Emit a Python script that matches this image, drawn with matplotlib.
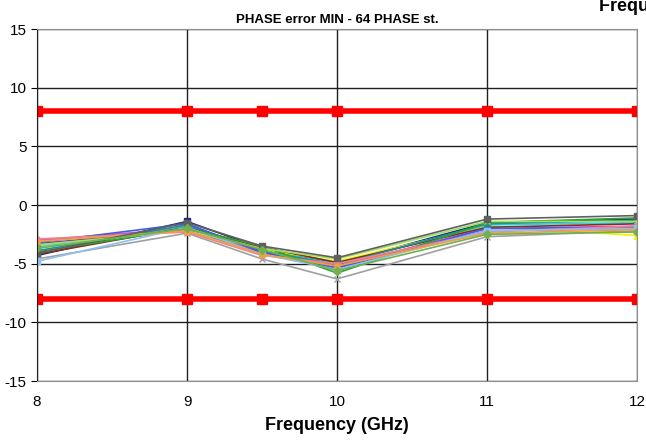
import numpy as np
import matplotlib.pyplot as plt

plt.rcParams['font.family'] = ['Liberation Sans', 'DejaVu Sans']
plt.rcParams['axes.unicode_minus'] = False

freq = [8, 9, 9.5, 10, 11, 12]
limit_hi = [8, 8, 8, 8, 8, 8]
limit_lo = [-8, -8, -8, -8, -8, -8]

# phase error per state (deg)
series = [
    [-4.3, -1.4, -3.7, -5.0, -1.5, -1.2],
    [-3.0, -2.0, -4.0, -5.2, -2.0, -1.8],
    [-3.5, -2.0, -3.8, -4.8, -1.8, -2.6],
    [-3.6, -1.8, -3.9, -5.0, -1.7, -1.5],
    [-3.3, -2.1, -4.1, -5.3, -2.2, -2.0],
    [-4.2, -1.9, -3.6, -4.9, -1.9, -1.6],
    [-3.9, -1.7, -3.9, -5.1, -1.6, -1.3],
    [-3.2, -1.6, -4.0, -5.4, -2.0, -1.9],
    [-4.0, -2.0, -3.5, -5.8, -1.5, -1.1],
    [-3.4, -2.2, -3.7, -4.6, -1.4, -1.4],
    [-4.6, -2.4, -4.6, -6.3, -2.7, -2.2],
    [-2.9, -2.3, -4.3, -5.0, -2.3, -1.8],
    [-4.8, -1.9, -4.2, -5.5, -2.2, -2.0],
    [-3.1, -2.2, -4.2, -5.2, -2.4, -2.1],
    [-4.1, -1.5, -3.5, -4.5, -1.2, -0.9],
    [-3.7, -2.0, -3.8, -5.6, -2.5, -2.3],
]
colors = ['#1f2a80', '#e040e0', '#f0f000', '#30d0e0', '#8040a0', '#803020',
          '#209090', '#4060e0', '#30a030', '#a0e060', '#a0a0a0', '#f08090',
          '#90c0f0', '#f0a040', '#606060', '#70b050']
markers = ['s', '^', '^', 'x', '*', 'o', 's', '^', '+', 'x', 'x', 'o',
           's', '^', 's', 'D']

fig = plt.figure(figsize=(6.46, 4.45), dpi=100)
ax = fig.add_axes([0.0573, 0.1438, 0.9287, 0.791])

for vals, c, m in zip(series, colors, markers):
    ax.plot(freq, vals, color=c, marker=m, markersize=4, linewidth=1.2)

ax.plot(freq, limit_hi, color='#ff0000', marker='s', markersize=6.5, linewidth=4)
ax.plot(freq, limit_lo, color='#ff0000', marker='s', markersize=6.5, linewidth=4)

ax.set_xlim(8, 12)
ax.set_ylim(-15, 15)
ax.set_xticks([8, 9, 10, 11, 12])
ax.set_yticks(np.arange(-15, 16, 5))
ax.grid(True, color='#202020', linewidth=1)
ax.set_axisbelow(True)
ax.tick_params(axis='x', length=0, pad=10, labelsize=11)
ax.tick_params(axis='y', length=4, direction='out', labelsize=11)
for s in ['top', 'right', 'bottom']:
    ax.spines[s].set_color('#909090')
ax.spines['left'].set_color('#202020')

ax.set_title('PHASE error MIN - 64 PHASE st.', fontsize=9.5, fontweight='bold', pad=4)
ax.set_xlabel('Frequency (GHz)', fontsize=13, fontweight='bold', labelpad=6)

# second chart's axis title, cut off at the top-right corner in the source
fig.text(0.928, 1.005, 'Frequency (GHz)', fontsize=13, fontweight='bold',
         ha='left', va='top')

fig.savefig('out.png', dpi=100)
